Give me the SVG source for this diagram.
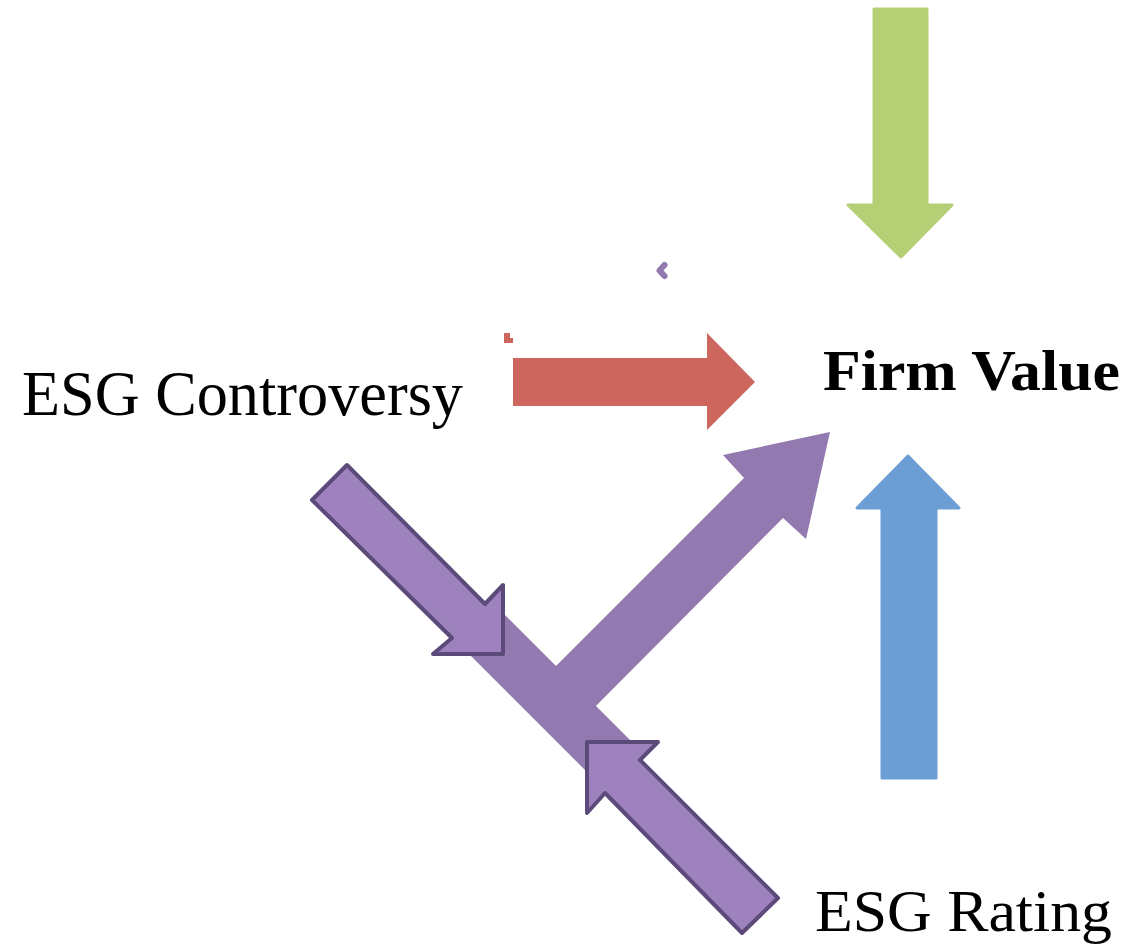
<svg xmlns="http://www.w3.org/2000/svg" width="1128" height="946" viewBox="0 0 1128 946">
<style>
.lbl{font-family:"Liberation Serif","Times New Roman",serif;fill:#000}
.bold{font-weight:bold}
.soft{stroke-linejoin:round;stroke-width:3}
.outl{fill:#9D82BD;stroke:#5C4A7B;stroke-width:4;stroke-linejoin:round}
.band{fill:#9279B0}
</style>
<rect width="1128" height="946" fill="#fff"/>
<g id="connectors">
  <g id="green-arrow"><polygon class="soft" fill="#B5CF74" stroke="#B5CF74" points="874,9 927,9 927,205 952,205 901,257 848,205 874,205"/></g>
  <g id="blue-arrow"><polygon class="soft" fill="#6A9ED4" stroke="#6A9ED4" points="908,456 959,508 936,508 936,778 882,778 882,508 857,508"/></g>
  <g id="red-arrow"><polygon fill="#CD665E" points="513,358 707,358 707,333 755,382 707,430 707,406 513,406"/></g>
  <g id="red-mark"><polygon fill="#CD665E" points="504,333 510,333 510,338 513,338 513,343 504,343"/></g>
  <g id="purple-mark"><polyline points="664.5,265 659.5,270.5 664.5,276" fill="none" stroke="#9279B0" stroke-width="6" stroke-linejoin="round" stroke-linecap="round"/></g>
  <g id="purple-band"><polygon class="band" points="495,605 635,745 597.5,782.5 457.5,642.5"/></g>
  <g id="purple-ne-arrow"><polygon class="band" points="536,686 744,478 723,455 830,432 806,539 783,518 576,726"/></g>
  <g id="purple-upper-arrow"><polygon class="outl" points="347,465 485,604 503,585 503,654 433,654 452,638 312,500"/></g>
  <g id="purple-lower-arrow"><polygon class="outl" points="587,742 658,742 640,760 778,898 742,933 605,793 587,813"/></g>
</g>
<g id="node-controversy"><text class="lbl" x="22" y="415" font-size="64" textLength="441" lengthAdjust="spacingAndGlyphs">ESG Controversy</text></g>
<g id="node-firmvalue"><text class="lbl bold" x="823" y="390" font-size="58" textLength="297" lengthAdjust="spacingAndGlyphs">Firm Value</text></g>
<g id="node-rating"><text class="lbl" x="815" y="931" font-size="59" textLength="297" lengthAdjust="spacingAndGlyphs">ESG Rating</text></g>
</svg>
